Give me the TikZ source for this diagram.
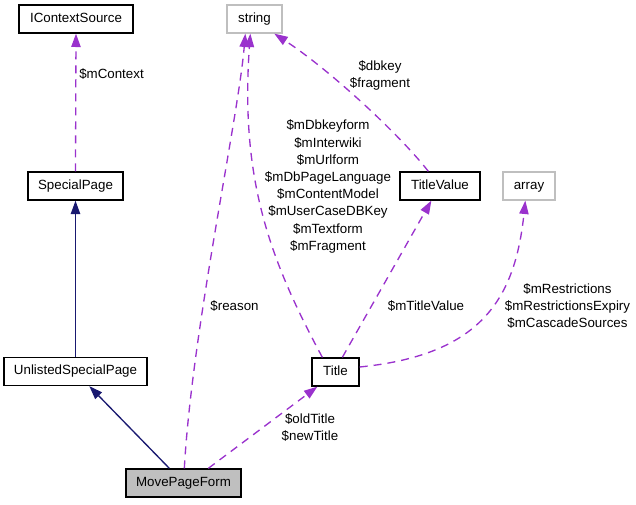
\documentclass[tikz,border=0pt]{standalone}
\usepackage{fontspec}
\setmainfont{Liberation Sans}
\usetikzlibrary{arrows.meta,calc}
\newdimen\pxu \pxu=0.75pt
\definecolor{orchid}{HTML}{9A32CD}
\definecolor{midnight}{HTML}{191970}
\definecolor{greyline}{HTML}{BFBFBF}
\definecolor{greyfill}{HTML}{BFBFBF}
\tikzset{
  cls/.style={draw=black, line width=1pt, fill=white, minimum height=28\pxu, inner sep=0pt,
    font=\fontsize{10}{12}\selectfont, text height=7.3pt, text depth=2.1pt},
  extcls/.style={cls, draw=greyline},
  lbl/.style={font=\fontsize{10}{12.9}\selectfont, align=center, inner sep=0pt},
  usage/.style={draw=orchid, line width=1pt, dash pattern=on 6pt off 4.5pt,
    -{Triangle[length=10pt,width=7pt,fill=orchid]}},
  inherit/.style={draw=midnight, line width=1pt,
    -{Triangle[length=10pt,width=7pt,fill=midnight]}}
}
\begin{document}
\begin{tikzpicture}[x=0.75pt,y=-0.75pt]
\useasboundingbox (0,0) rectangle (636,504);
% nodes
\node[cls, minimum width=114\pxu] (ics) at (76,19) {IContextSource};
\node[extcls, minimum width=55\pxu] (str) at (254.5,19) {string};
\node[cls, minimum width=95\pxu] (sp) at (75.5,186) {SpecialPage};
\node[cls, minimum width=80\pxu] (tv) at (440,186) {TitleValue};
\node[extcls, minimum width=52\pxu] (arr) at (529,186) {array};
\node[cls, minimum width=143\pxu] (usp) at (75.5,371.5) {UnlistedSpecialPage};
\node[cls, minimum width=47\pxu] (title) at (335.5,372) {Title};
\node[cls, fill=greyfill, minimum width=115\pxu] (mpf) at (183.5,483) {MovePageForm};
% labels
\node[lbl] (lctx) at (111.5,74) {\$mContext};
\node[lbl] (ldb) at (380,75.5) {\$dbkey\\\$fragment};
\node[lbl] (lstr) at (328,186.5) {\$mDbkeyform\\\$mInterwiki\\\$mUrlform\\\$mDbPageLanguage\\\$mContentModel\\\$mUserCaseDBKey\\\$mTextform\\\$mFragment};
\node[lbl] (lreason) at (234.5,306) {\$reason};
\node[lbl] (ltv) at (426,306) {\$mTitleValue};
\node[lbl] (lres) at (567.5,306) {\$mRestrictions\\\$mRestrictionsExpiry\\\$mCascadeSources};
\node[lbl] (lold) at (310,427.5) {\$oldTitle\\\$newTitle};
% edges
\draw[usage] (sp.north) -- (ics.south);
\draw[inherit] (usp.north) -- (sp.south);
\draw[inherit] ($(mpf.north west)+(44,0)$) -- ($(usp.south west)+(86,0)$);
\draw[usage] ($(mpf.north west)+(59,0)$) .. controls (192,330) and (238,120) .. ($(str.south west)+(19,0)$);
\draw[usage] ($(mpf.north west)+(83,0)$) -- ($(title.south west)+(6,0)$);
\draw[usage] ($(title.north west)+(11,0)$) .. controls (270,260) and (240,180) .. ($(str.south west)+(24,0)$);
\draw[usage] ($(title.north west)+(31,0)$) -- ($(tv.south west)+(32,0)$);
\draw[usage] ($(title.east)+(0,-5)$) .. controls (480,355) and (515,300) .. ($(arr.south west)+(23,0)$);
\draw[usage] ($(tv.north west)+(29,0)$) .. controls (400,135) and (330,70) .. ($(str.south west)+(48,0)$);
\end{tikzpicture}
\end{document}
